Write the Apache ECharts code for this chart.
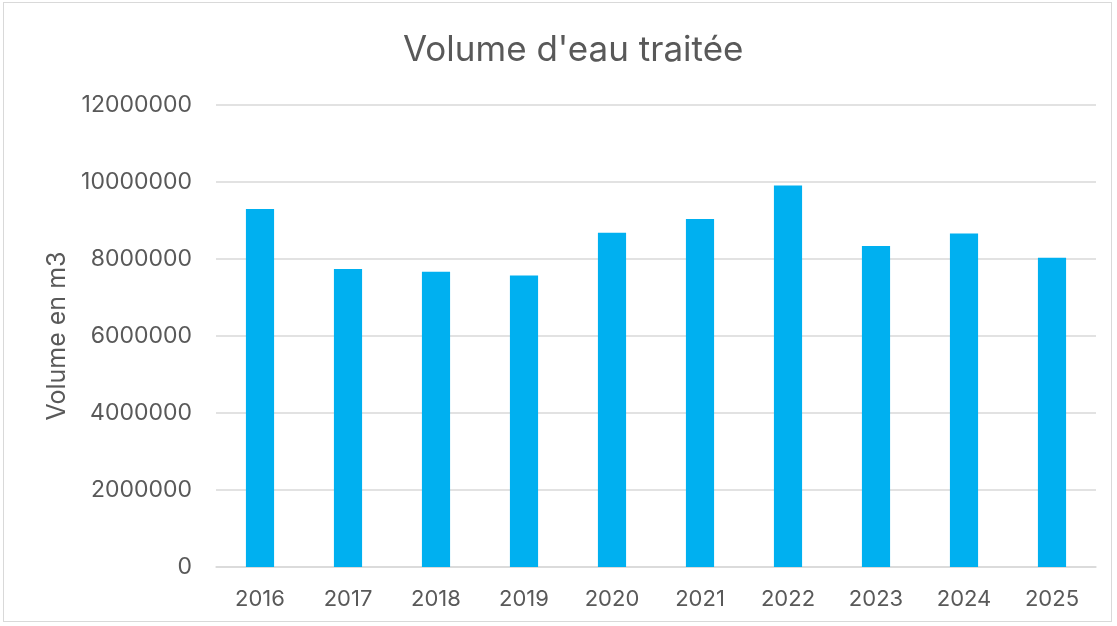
<!DOCTYPE html>
<html><head><meta charset="utf-8">
<script src="https://cdn.jsdelivr.net/npm/echarts@6/dist/echarts.min.js"></script>
<style>
html,body{margin:0;padding:0;background:#fff;}
#frame{position:absolute;left:3px;top:2px;width:1109px;height:620px;border:1px solid #d9d9d9;box-sizing:border-box;}
#c{position:absolute;left:0;top:0;width:1117px;height:626px;}
</style></head>
<body>
<div id="frame"></div>
<div id="c"></div>
<script>
const categories = ['2016','2017','2018','2019','2020','2021','2022','2023','2024','2025'];
const volumes = [9300000, 7740000, 7670000, 7570000, 8680000, 9040000, 9910000, 8340000, 8660000, 8030000];
const titleText = "Volume d'eau traitée";
const yAxisName = 'Volume en m3';

const chart = echarts.init(document.getElementById('c'), null, {renderer:'canvas'});
const font = 'Inter, "Noto Sans", sans-serif';
chart.setOption({
  animation:false,
  title:{text:titleText,left:398,top:28,textStyle:{fontFamily:font,fontSize:35,fontWeight:'normal',color:'#595959'}},
  grid:{left:216,right:21,top:105,bottom:59,containLabel:false},
  xAxis:{type:'category',data:categories,
    axisLine:{lineStyle:{color:'#d9d9d9',width:1.5}},axisTick:{show:false},
    axisLabel:{fontFamily:font,fontSize:22,color:'#595959',margin:21}},
  yAxis:{type:'value',min:0,max:12000000,interval:2000000,
    name:yAxisName,nameLocation:'middle',nameGap:145,nameRotate:90,
    nameTextStyle:{fontFamily:font,fontSize:25,color:'#595959'},
    axisLine:{show:false},axisTick:{show:false},
    axisLabel:{fontFamily:font,fontSize:23,color:'#595959',margin:24,formatter:v=>String(v)},
    splitLine:{lineStyle:{color:'#d9d9d9',width:1.5}}},
  series:[{type:'bar',data:volumes,barWidth:'32%',itemStyle:{color:'#00B0F0'}}]
});
</script>
</body></html>
